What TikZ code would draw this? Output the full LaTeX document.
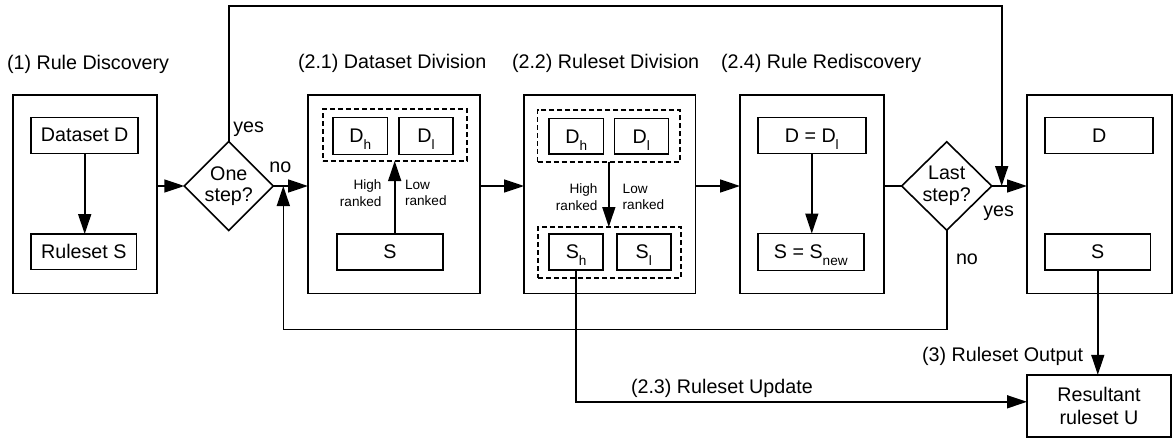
\documentclass[tikz,border=0pt]{standalone}
\usepackage{fontspec}
\setmainfont{Liberation Sans}
\usetikzlibrary{arrows.meta,shapes.geometric}
% lowered subscript letter used in D_h, D_l, S_h, S_l, S_new
\newcommand\lowsub[1]{\raisebox{-7pt}[0pt][0pt]{\fontsize{13.6}{13.6}\selectfont #1}}

\begin{document}
\begin{tikzpicture}[x=1pt,y=-1pt, line width=1.6pt,
  every node/.style={inner sep=0pt, outer sep=0pt, font=\fontsize{19.7}{24}\selectfont},
  stage/.style={draw, minimum height=198.5},
  item/.style={draw, minimum height=36},
  group/.style={draw, dash pattern=on 5pt off 3pt, minimum height=52},
  decision/.style={draw, diamond, aspect=1, minimum width=89, minimum height=89},
  dtext/.style={align=center, font=\fontsize{19.7}{21.5}\selectfont},
  rank/.style={align=#1, font=\fontsize{13.6}{16.7}\selectfont},
  arr/.style={-{Triangle[length=20pt,width=13pt]}},
]
\useasboundingbox (0,0) rectangle (1173,439);

% stage headings
\node[anchor=base west] at (7,69.5) {(1) Rule Discovery};
\node[anchor=base west] at (298,68.5) {(2.1) Dataset Division};
\node[anchor=base west] at (512,68.5) {(2.2) Ruleset Division};
\node[anchor=base west] at (721,68.5) {(2.4) Rule Rediscovery};

% (1) rule discovery
\node[stage, minimum width=144] (s1) at (84.7,194.2) {};
\node[item, minimum width=107] (dsd) at (84.7,135.3) {Dataset D};
\node[item, minimum width=105.7, minimum height=35.3] (rss) at (83.8,251.7) {Ruleset S};
\draw[arr] (dsd.south) -- (dsd.south |- rss.north);

% one-step decision
\node[decision] (q1) at (228.8,186) {};
\node[dtext] at (q1) {One\\step?};

% (2.1) dataset division
\node[stage, minimum width=172] (s2) at (394,194.2) {};
\node[group, minimum width=144] (g2) at (394.7,135) {};
\node[item, minimum width=54.7, minimum height=37] (dh2) at (360.3,136) {D\lowsub{h}};
\node[item, minimum width=54, minimum height=37] (dl2) at (426,136) {D\lowsub{l}};
\node[item, minimum width=106] (s2s) at (390,252) {S};
\draw[arr] (g2.south |- s2s.north) -- (g2.south);
\node[rank=right, anchor=east] at (381.5,193) {High\\ranked};
\node[rank=left, anchor=west] at (405,193) {Low\\ranked};

% (2.2) ruleset division
\node[stage, minimum width=171.5] (s3) at (609.8,194.2) {};
\node[group, minimum width=142.3] (g3a) at (608.8,136) {};
\node[item, minimum width=54.3, minimum height=35.3] (dh3) at (576.2,136.3) {D\lowsub{h}};
\node[item, minimum width=54, minimum height=35.3] (dl3) at (641.3,136.3) {D\lowsub{l}};
\node[group, minimum width=143, minimum height=51] (g3b) at (609.5,252.5) {};
\node[item, minimum width=54] (sh3) at (576.2,252) {S\lowsub{h}};
\node[item, minimum width=54] (sl3) at (643.7,252) {S\lowsub{l}};
\draw[arr] (g3a.south) -- (g3a.south |- g3b.north);
\node[rank=right, anchor=east] at (597.5,197) {High\\ranked};
\node[rank=left, anchor=west] at (622.7,197) {Low\\ranked};

% (2.4) rule rediscovery
\node[stage, minimum width=144] (s4) at (812,194.2) {};
\node[item, minimum width=108] (d4) at (811.8,135.3) {D = D\lowsub{l}};
\node[item, minimum width=106, minimum height=37] (s4s) at (810.8,252) {S = S\lowsub{new}};
\draw[arr] (d4.south) -- (d4.south |- s4s.north);

% last-step decision
\node[decision, minimum width=90, minimum height=88.5] (q2) at (946.7,186) {};
\node[dtext] at (q2) {Last\\step?};

% final stage and output
\node[stage, minimum width=145] (s5) at (1099.5,194.2) {};
\node[item, minimum width=108] (d5) at (1099.2,135.5) {D};
\node[item, minimum width=105.7, minimum height=35.7] (s5s) at (1097.8,252) {S};
\node[draw, minimum width=144, minimum height=62, align=center,
      font=\fontsize{19.7}{23.5}\selectfont] (res) at (1099,405.8) {Resultant\\ruleset U};

% main flow
\draw[arr] (s1.east |- q1.west) -- (q1.west);
\draw[arr] (q1.east) -- (s2.west |- q1.east);
\draw[arr] (s2.east |- q1.east) -- (s3.west |- q1.east);
\draw[arr] (s3.east |- q1.east) -- (s4.west |- q1.east);
\draw (s4.east |- q2.west) -- (q2.west);
\draw[arr] (q2.east) -- (s5.west |- q2.east);

% "yes" bypass over the top
\coordinate (top) at (0,5.7);
\coordinate (join) at (1001.7,186);
\draw[arr] (q1.north) -- (q1.north |- top) -| (join);

% "no" loop back underneath
\coordinate (bot) at (0,329.3);
\coordinate (back) at (283.3,186);
\draw[arr] (q2.south) -- (q2.south |- bot) -| (back);

% ruleset update and output
\draw[arr] (sh3.south) |- ([yshift=4pt]res.west);
\draw[arr] (s5s.south) -- (s5s.south |- res.north);

% decision and path labels
\node[anchor=base west] at (233.3,132.7) {yes};
\node[anchor=base west] at (269.3,172.7) {no};
\node[anchor=base west] at (983.3,216) {yes};
\node[anchor=base west] at (956,264) {no};
\node[anchor=base west] at (631,393) {(2.3) Ruleset Update};
\node[anchor=base east] at (1083,361) {(3) Ruleset Output};
\end{tikzpicture}
\end{document}
